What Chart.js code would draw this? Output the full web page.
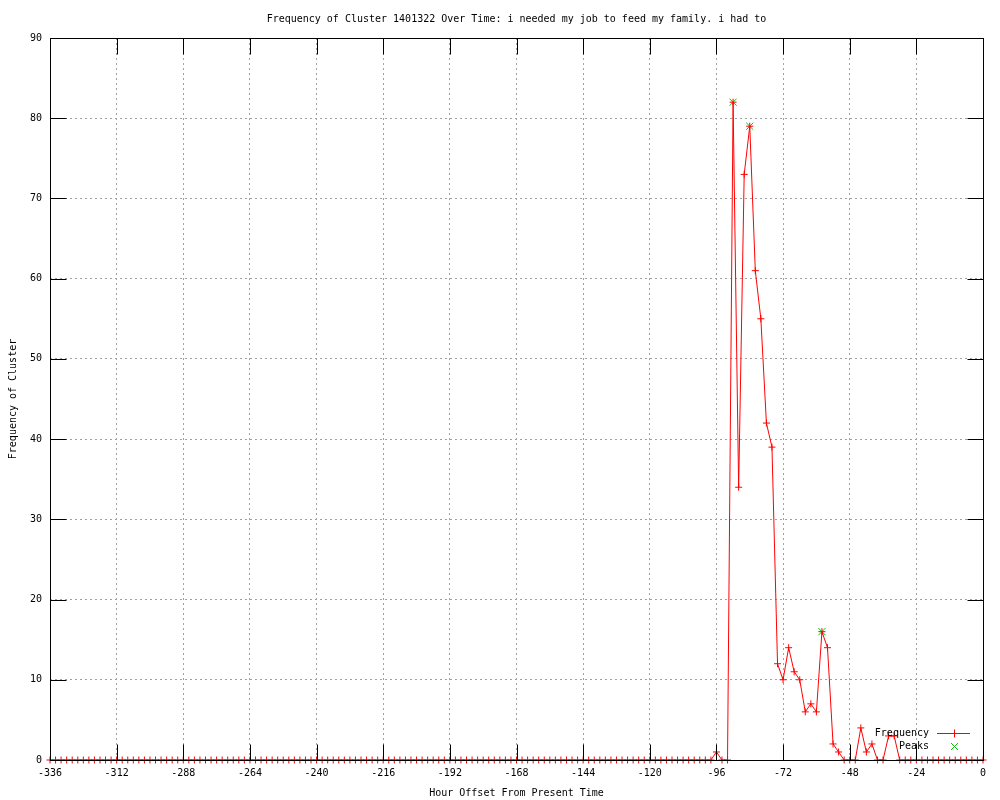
<!DOCTYPE html>
<html>
<head>
<meta charset="utf-8">
<script src="https://cdn.jsdelivr.net/npm/chart.js@4/dist/chart.umd.min.js"></script>
<style>
  html, body { margin: 0; padding: 0; background: #fff; }
  #wrap { width: 1000px; height: 800px; }
</style>
</head>
<body>
<div id="wrap"><canvas id="chart"></canvas></div>
<script>
// hour offsets, one point every 2 hours
const hours = [
  -336, -334, -332, -330, -328, -326, -324, -322, -320, -318, -316, -314,
  -312, -310, -308, -306, -304, -302, -300, -298, -296, -294, -292, -290,
  -288, -286, -284, -282, -280, -278, -276, -274, -272, -270, -268, -266,
  -264, -262, -260, -258, -256, -254, -252, -250, -248, -246, -244, -242,
  -240, -238, -236, -234, -232, -230, -228, -226, -224, -222, -220, -218,
  -216, -214, -212, -210, -208, -206, -204, -202, -200, -198, -196, -194,
  -192, -190, -188, -186, -184, -182, -180, -178, -176, -174, -172, -170,
  -168, -166, -164, -162, -160, -158, -156, -154, -152, -150, -148, -146,
  -144, -142, -140, -138, -136, -134, -132, -130, -128, -126, -124, -122,
  -120, -118, -116, -114, -112, -110, -108, -106, -104, -102, -100, -98,
  -96, -94, -92, -90, -88, -86, -84, -82, -80, -78, -76, -74,
  -72, -70, -68, -66, -64, -62, -60, -58, -56, -54, -52, -50,
  -48, -46, -44, -42, -40, -38, -36, -34, -32, -30, -28, -26,
  -24, -22, -20, -18, -16, -14, -12, -10, -8, -6, -4, -2,
  0
];

const frequency = [
  0, 0, 0, 0, 0, 0, 0, 0, 0, 0, 0, 0,
  0, 0, 0, 0, 0, 0, 0, 0, 0, 0, 0, 0,
  0, 0, 0, 0, 0, 0, 0, 0, 0, 0, 0, 0,
  0, 0, 0, 0, 0, 0, 0, 0, 0, 0, 0, 0,
  0, 0, 0, 0, 0, 0, 0, 0, 0, 0, 0, 0,
  0, 0, 0, 0, 0, 0, 0, 0, 0, 0, 0, 0,
  0, 0, 0, 0, 0, 0, 0, 0, 0, 0, 0, 0,
  0, 0, 0, 0, 0, 0, 0, 0, 0, 0, 0, 0,
  0, 0, 0, 0, 0, 0, 0, 0, 0, 0, 0, 0,
  0, 0, 0, 0, 0, 0, 0, 0, 0, 0, 0, 0,
  1, 0, 0, 82, 34, 73, 79, 61, 55, 42, 39, 12,
  10, 14, 11, 10, 6, 7, 6, 16, 14, 2, 1, 0,
  0, 0, 4, 1, 2, 0, 0, 3, 3, 0, 0, 0,
  0, 0, 0, 0, 0, 0, 0, 0, 0, 0, 0, 0,
  0
];

const peakHours = [-90, -84, -58];
const peakValues = [82, 79, 16];

const xTicks = [-336, -312, -288, -264, -240, -216, -192, -168, -144, -120, -96, -72, -48, -24, 0];
const yTicks = [0, 10, 20, 30, 40, 50, 60, 70, 80, 90];

const RED = '#ff0000';
const GREEN = '#00c800';
const FONT = 'DejaVu Sans Mono';

Chart.defaults.font.family = FONT;
Chart.defaults.font.size = 10;
Chart.defaults.color = '#000';

// gnuplot style frame: black border and inward tics, drawn over the data
const framePlugin = {
  id: 'frame',
  afterDatasetsDraw(chart) {
    const { ctx, chartArea: a, scales } = chart;
    const L = Math.round(a.left) + 0.5, R = Math.round(a.right) + 0.5;
    const T = Math.round(a.top) + 0.5, B = Math.round(a.bottom) + 0.5;
    ctx.save();
    ctx.setLineDash([]);
    ctx.strokeStyle = '#000';
    ctx.lineWidth = 1;
    ctx.beginPath();
    xTicks.forEach(v => {
      const px = Math.round(scales.x.getPixelForValue(v)) + 0.5;
      ctx.moveTo(px, B); ctx.lineTo(px, B - 16);
      ctx.moveTo(px, T); ctx.lineTo(px, T + 16);
    });
    yTicks.forEach(v => {
      const py = Math.round(scales.y.getPixelForValue(v)) + 0.5;
      ctx.moveTo(L, py); ctx.lineTo(L + 16, py);
      ctx.moveTo(R, py); ctx.lineTo(R - 16, py);
    });
    ctx.stroke();
    ctx.strokeRect(L, T, R - L, B - T);
    ctx.restore();
  },
  afterDraw(chart) {
    // key in the lower right corner, text left of the sample like gnuplot
    const { ctx, chartArea: a } = chart;
    const textX = a.right - 54;
    const sx = a.right - 13;
    const cx = Math.round((textX + 8 + sx) / 2) + 0.5;
    const rows = [Math.round(a.bottom - 27) + 0.5, Math.round(a.bottom - 14) + 0.5];
    ctx.save();
    ctx.setLineDash([]);
    ctx.font = '10px ' + FONT;
    ctx.fillStyle = '#000';
    ctx.textAlign = 'right';
    ctx.textBaseline = 'middle';
    ctx.fillText('Frequency', textX, rows[0]);
    ctx.fillText('Peaks', textX, rows[1]);
    ctx.lineWidth = 1;
    ctx.strokeStyle = RED;
    ctx.beginPath();
    ctx.moveTo(textX + 8, rows[0]); ctx.lineTo(sx, rows[0]);
    ctx.moveTo(cx, rows[0] - 4); ctx.lineTo(cx, rows[0] + 4);
    ctx.stroke();
    ctx.strokeStyle = GREEN;
    ctx.beginPath();
    ctx.moveTo(cx - 3.5, rows[1] - 3.5); ctx.lineTo(cx + 3.5, rows[1] + 3.5);
    ctx.moveTo(cx + 3.5, rows[1] - 3.5); ctx.lineTo(cx - 3.5, rows[1] + 3.5);
    ctx.stroke();
    ctx.restore();
  }
};

const ctx = document.getElementById('chart').getContext('2d');
new Chart(ctx, {
  type: 'line',
  data: {
    datasets: [{
      label: 'Frequency',
      data: hours.map((h, i) => ({ x: h, y: frequency[i] })),
      borderColor: RED,
      backgroundColor: RED,
      borderWidth: 1,
      pointStyle: 'cross',
      pointRadius: 3.5,
      pointBorderColor: RED,
      pointBorderWidth: 1,
      tension: 0,
      clip: false
    }, {
      label: 'Peaks',
      data: peakHours.map((h, i) => ({ x: h, y: peakValues[i] })),
      showLine: false,
      borderColor: GREEN,
      backgroundColor: GREEN,
      pointStyle: 'crossRot',
      pointRadius: 5,
      pointBorderWidth: 1,
      clip: false
    }]
  },
  options: {
    responsive: true,
    maintainAspectRatio: false,
    animation: false,
    devicePixelRatio: 1,
    layout: { padding: { left: 0, right: 17, top: 0, bottom: 0 } },
    plugins: {
      legend: { display: false },
      tooltip: { enabled: false },
      title: {
        display: true,
        text: 'Frequency of Cluster 1401322 Over Time: i needed my job to feed my family. i had to',
        fullSize: false,
        color: '#000',
        font: { size: 10, weight: 'normal', family: FONT },
        padding: { top: 13, bottom: 13 }
      }
    },
    scales: {
      x: {
        type: 'linear',
        min: -336,
        max: 0,
        afterFit: s => { s.height = 40; },
        afterBuildTicks: s => { s.ticks = xTicks.map(v => ({ value: v })); },
        ticks: { padding: 7, color: '#000', maxRotation: 0, autoSkip: false },
        grid: { color: '#a0a0a0', lineWidth: 1, drawTicks: false },
        border: { display: false, dash: [2, 3] },
        title: {
          display: true,
          text: 'Hour Offset From Present Time',
          color: '#000',
          padding: { top: 0, bottom: 1 }
        }
      },
      y: {
        type: 'linear',
        min: 0,
        max: 90,
        afterFit: s => { s.width = 50; },
        afterBuildTicks: s => { s.ticks = yTicks.map(v => ({ value: v })); },
        ticks: { padding: 8, color: '#000' },
        grid: { color: '#a0a0a0', lineWidth: 1, drawTicks: false },
        border: { display: false, dash: [2, 3] },
        title: {
          display: true,
          text: 'Frequency of Cluster',
          color: '#000',
          padding: { top: 7, bottom: 0 }
        }
      }
    }
  },
  plugins: [framePlugin]
});
</script>
</body>
</html>
